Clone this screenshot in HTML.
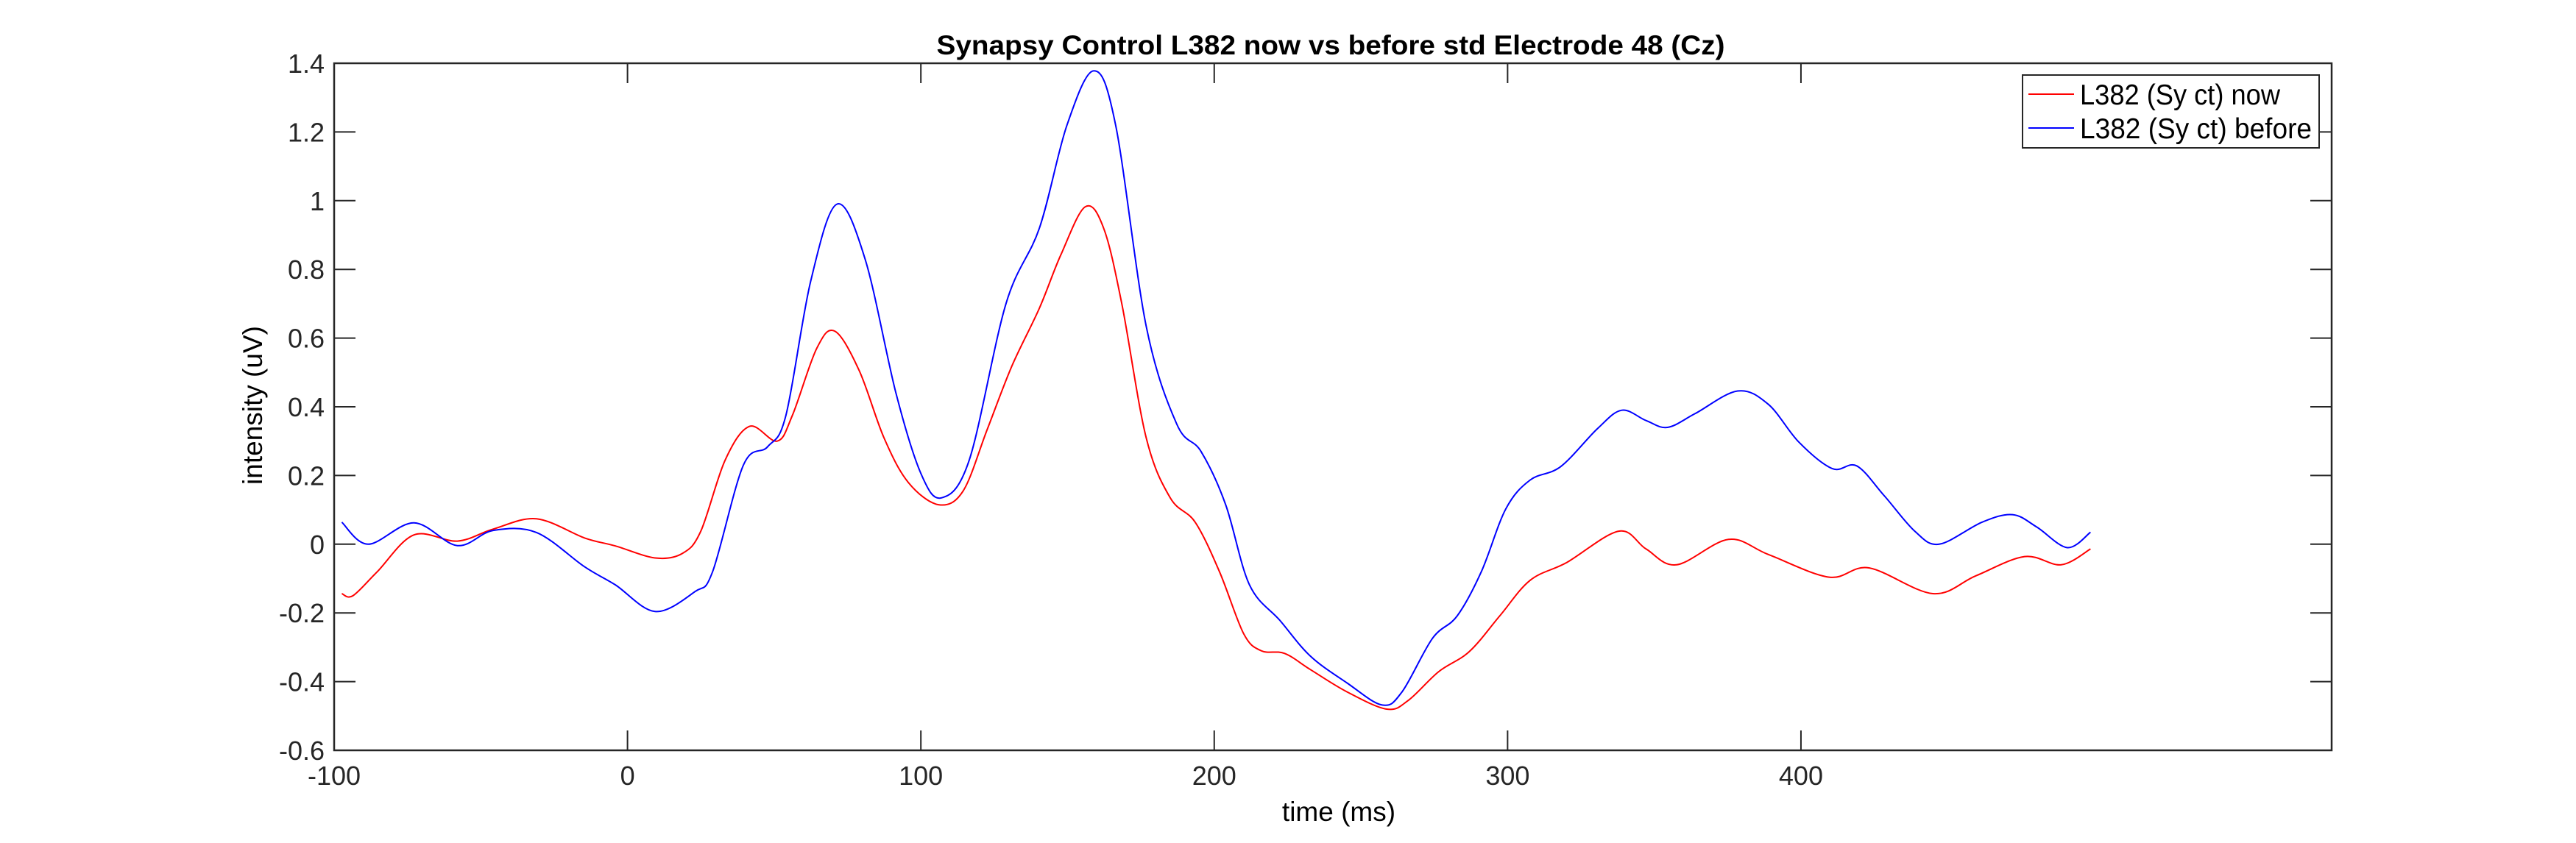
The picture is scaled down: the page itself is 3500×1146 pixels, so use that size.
<!DOCTYPE html>
<html><head><meta charset="utf-8"><style>
html,body{margin:0;padding:0;background:#fff;}
svg{display:block;font-family:"Liberation Sans",Arial,sans-serif;}
</style></head><body>
<svg id="chart" width="3500" height="1146" viewBox="0 0 3500 1146">
<rect width="3500" height="1146" fill="#fff"/>
<text x="1808" y="74" text-anchor="middle" font-size="37" font-weight="bold" textLength="1071" lengthAdjust="spacingAndGlyphs">Synapsy Control L382 now vs before std Electrode 48 (Cz)</text>
<g id="axes"></g>
<g id="series"></g>
<text x="1819" y="1116" text-anchor="middle" font-size="37">time (ms)</text>
<text transform="translate(356,551) rotate(-90)" text-anchor="middle" font-size="37">intensity (uV)</text>
<g>
<rect x="2748" y="102" width="403" height="99" fill="#fff" stroke="#262626" stroke-width="2"/>
<line x1="2756" y1="128" x2="2818" y2="128" stroke="#ff0000" stroke-width="2"/>
<text x="2826" y="142" font-size="39" textLength="272" lengthAdjust="spacingAndGlyphs">L382 (Sy ct) now</text>
<line x1="2756" y1="174" x2="2818" y2="174" stroke="#0000ff" stroke-width="2"/>
<text x="2826" y="188" font-size="39" textLength="315" lengthAdjust="spacingAndGlyphs">L382 (Sy ct) before</text>
</g>
</svg>
<script>
const xTicks = [-100, 0, 100, 200, 300, 400];
const yTicks = [-0.6, -0.4, -0.2, 0, 0.2, 0.4, 0.6, 0.8, 1, 1.2, 1.4];
const yTickLabels = ["-0.6","-0.4","-0.2","0","0.2","0.4","0.6","0.8","1","1.2","1.4"];
const nowT = [-97.4,-93.6,-85.3,-72.8,-58,-45.8,-31,-14.6,-4.2,9.4,18.7,25,33.3,41.6,51,56.2,64.5,70.7,79,87.4,95.7,106,114.4,122.7,131,140.4,147.7,156,162.3,168.5,176.8,185,193.5,201.8,210,216,224,232.8,245.3,258.8,266.1,276.5,286.9,297.3,307.7,320.2,337.9,347.2,357.6,375.3,388.9,409.6,423.2,445,459.6,476.2,488.7,498.7];
const nowV = [-0.144,-0.15,-0.08,0.027,0.009,0.044,0.074,0.018,-0.005,-0.04,-0.027,0.038,0.245,0.343,0.30,0.375,0.57,0.62,0.505,0.31,0.18,0.115,0.155,0.336,0.518,0.687,0.842,0.982,0.92,0.70,0.31,0.135,0.064,-0.08,-0.26,-0.31,-0.318,-0.365,-0.43,-0.48,-0.455,-0.371,-0.313,-0.209,-0.105,-0.053,0.038,-0.014,-0.06,0.014,-0.03,-0.096,-0.069,-0.144,-0.092,-0.036,-0.06,-0.014];
const beforeT = [-97.4,-88.4,-72.8,-58,-45.8,-31,-14.6,-4.2,9.4,23,29,39.5,47.8,54,62.4,71.4,81,91.5,100,107,116.5,129,140.4,149.8,159,166.4,176.8,187.2,195.5,203.9,212,222.4,232.8,245.3,257.2,264,274.4,282.8,291.1,299.4,307.7,318.1,330.6,338.9,347.2,354.5,363.9,378.4,388.9,399.3,410.7,419,428.4,438.8,447.1,461.7,472.1,480.4,490.8,498.7];
const beforeV = [0.064,0,0.062,-0.004,0.04,0.034,-0.066,-0.118,-0.196,-0.138,-0.08,0.23,0.284,0.375,0.764,0.99,0.83,0.44,0.206,0.135,0.245,0.70,0.92,1.22,1.378,1.22,0.635,0.35,0.27,0.115,-0.118,-0.222,-0.326,-0.404,-0.468,-0.43,-0.274,-0.209,-0.079,0.103,0.187,0.226,0.336,0.39,0.36,0.34,0.38,0.446,0.407,0.297,0.22,0.228,0.141,0.038,0,0.064,0.086,0.05,-0.01,0.035];

const L=454,R=3168,T=86,B=1020;
const xMin=-100,xMax=580.9,yMin=-0.6,yMax=1.4;
function sx(t){return L+(t-xMin)/(xMax-xMin)*(R-L);}
function sy(v){return B-(v-yMin)/(yMax-yMin)*(B-T);}
const NS="http://www.w3.org/2000/svg";
const axes=document.getElementById('axes');
function mk(tag,attrs,parent){const e=document.createElementNS(NS,tag);for(const k in attrs)e.setAttribute(k,attrs[k]);parent.appendChild(e);return e;}

xTicks.forEach(t=>{
  const x=sx(t);
  const a=mk('line',{x1:x,y1:B,x2:x,y2:B-27,stroke:'#262626','stroke-width':2},axes);
  
  
  const b=mk('line',{x1:x,y1:T,x2:x,y2:T+27,stroke:'#262626','stroke-width':2},axes);
  
  
  const tx=mk('text',{x:x,y:1067,'text-anchor':'middle','font-size':36,fill:'#262626'},axes);
  tx.textContent=String(t);
  
  
});
yTicks.forEach((v,i)=>{
  const y=sy(v);
  const a=mk('line',{x1:L,y1:y,x2:L+29,y2:y,stroke:'#262626','stroke-width':2},axes);
  
  
  const b=mk('line',{x1:R,y1:y,x2:R-29,y2:y,stroke:'#262626','stroke-width':2},axes);
  
  
  const tx=mk('text',{x:441,y:y+13,'text-anchor':'end','font-size':36,fill:'#262626'},axes);
  tx.textContent=yTickLabels[i];
  
  
});
const frame=mk('rect',{x:L,y:T,width:R-L,height:B-T,fill:'none',stroke:'#262626','stroke-width':2.5},axes);



function pathFor(ts,vs){
  const p=ts.map((t,i)=>[sx(t),sy(vs[i])]);
  let d='M'+p[0][0].toFixed(1)+','+p[0][1].toFixed(1);
  for(let i=0;i<p.length-1;i++){
    const p0=p[Math.max(0,i-1)],p1=p[i],p2=p[i+1],p3=p[Math.min(p.length-1,i+2)];
    const c1=[p1[0]+(p2[0]-p0[0])/6,p1[1]+(p2[1]-p0[1])/6];
    const c2=[p2[0]-(p3[0]-p1[0])/6,p2[1]-(p3[1]-p1[1])/6];
    d+=' C'+c1[0].toFixed(1)+','+c1[1].toFixed(1)+' '+c2[0].toFixed(1)+','+c2[1].toFixed(1)+' '+p2[0].toFixed(1)+','+p2[1].toFixed(1);
  }
  return d;
}
const sg=document.getElementById('series');
const lineNow=mk('path',{d:pathFor(nowT,nowV),fill:'none',stroke:'#ff0000','stroke-width':2},sg);


const lineBefore=mk('path',{d:pathFor(beforeT,beforeV),fill:'none',stroke:'#0000ff','stroke-width':2},sg);


</script>
</body></html>
